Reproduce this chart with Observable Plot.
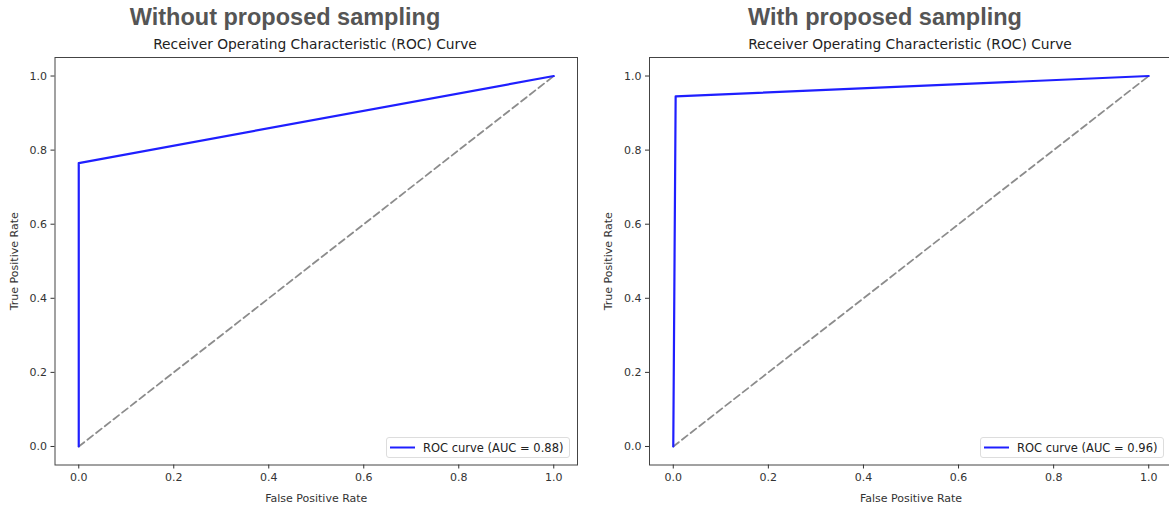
<!DOCTYPE html>
<html>
<head>
<meta charset="utf-8">
<script src="https://cdn.jsdelivr.net/npm/d3@7"></script>
<script src="https://cdn.jsdelivr.net/npm/@observablehq/plot@0.6"></script>
<style>
  body { margin: 0; background: #fff; }
  #root { position: relative; width: 1169px; height: 506px; overflow: hidden; background: #fff; }
  .panel { position: absolute; top: 0; }
  .panel svg { max-width: none !important; display: block; }
  .maintitle { position: absolute; font-family: "Liberation Sans", Arial, sans-serif; font-weight: bold; font-size: 23.5px; color: #555; white-space: nowrap; transform: translateX(-50%); line-height: 1; }
  .subtitle { position: absolute; font-family: "DejaVu Sans", sans-serif; font-size: 13.8px; color: #222; white-space: nowrap; transform: translateX(-50%); line-height: 1; }
  .legend { position: absolute; height: 21px; border: 1px solid #ddd; border-radius: 3px; background: rgba(255,255,255,0.9); box-sizing: border-box; font-family: "DejaVu Sans", sans-serif; font-size: 11.5px; color: #222; white-space: nowrap; }
  .legend svg { position: absolute; left: 0; top: 0; }
  .legend span { position: absolute; left: 36px; top: 3px; }
</style>
</head>
<body>
<div id="root"></div>
<script>
// ---- data ----
const panelTitles = ["Without proposed sampling", "With proposed sampling"];
const plotTitle = "Receiver Operating Characteristic (ROC) Curve";
const fprWithout = [0, 0, 1];
const tprWithout = [0, 0.765, 1];
const fprWith = [0, 0.005, 1];
const tprWith = [0, 0.945, 1];
const chanceFpr = [0, 1];
const chanceTpr = [0, 1];
const aucLabels = ["ROC curve (AUC = 0.88)", "ROC curve (AUC = 0.96)"];
const tickValues = [0.0, 0.2, 0.4, 0.6, 0.8, 1.0];
const xLabel = "False Positive Rate";
const yLabel = "True Positive Rate";

const root = document.getElementById("root");

function makePanel(fpr, tpr, opts) {
  const roc = fpr.map((f, i) => ({fpr: f, tpr: tpr[i]}));
  const chance = chanceFpr.map((f, i) => ({fpr: f, tpr: chanceTpr[i]}));
  const plot = Plot.plot({
    width: opts.width,
    height: 506,
    marginLeft: opts.marginLeft,
    marginRight: opts.marginRight,
    marginTop: 57,
    marginBottom: 41.5,
    style: {fontFamily: "DejaVu Sans, sans-serif", fontSize: "11px", color: "#333", background: "transparent", maxWidth: "none"},
    x: {domain: [-0.05, 1.05]},
    y: {domain: [-0.05, 1.05]},
    marks: [
      Plot.line(chance, {x: "fpr", y: "tpr", stroke: "#8c8c8c", strokeWidth: 1.8, strokeDasharray: "7,4"}),
      Plot.line(roc, {x: "fpr", y: "tpr", stroke: "#1f1fff", strokeWidth: 2.2}),
      Plot.frame({stroke: "#444", strokeWidth: 1}),
      Plot.axisX({ticks: tickValues, tickFormat: d3.format(".1f"), tickSize: 4, tickPadding: 4,
        label: xLabel, labelAnchor: "center", labelArrow: "none", labelOffset: 37}),
      Plot.axisY({ticks: tickValues, tickFormat: d3.format(".1f"), tickSize: 4, tickPadding: 4,
        label: yLabel, labelAnchor: "center", labelArrow: "none", labelOffset: 45})
    ]
  });
  const wrap = document.createElement("div");
  wrap.className = "panel";
  wrap.style.left = opts.left + "px";
  wrap.style.width = opts.width + "px";
  wrap.style.height = "506px";
  wrap.appendChild(plot);
  root.appendChild(wrap);

  const t = document.createElement("div");
  t.className = "maintitle";
  t.textContent = opts.title;
  t.style.left = opts.titleX + "px";
  t.style.top = "6px";
  root.appendChild(t);

  const s = document.createElement("div");
  s.className = "subtitle";
  s.textContent = plotTitle;
  s.style.left = opts.subX + "px";
  s.style.top = "38px";
  root.appendChild(s);

  const lg = document.createElement("div");
  lg.className = "legend";
  lg.style.left = opts.legendX + "px";
  lg.style.top = "437px";
  lg.style.width = "184px";
  lg.innerHTML = '<svg width="34" height="20"><line x1="3" x2="28" y1="9.5" y2="9.5" stroke="#1f1fff" stroke-width="2"/></svg>';
  const sp = document.createElement("span");
  sp.textContent = opts.legend;
  lg.appendChild(sp);
  root.appendChild(lg);
}

makePanel(fprWithout, tprWithout, {left: 0, width: 590, marginLeft: 54.5, marginRight: 13,
  title: panelTitles[0], titleX: 285, subX: 315, legendX: 386, legend: aucLabels[0]});
makePanel(fprWith, tprWith, {left: 590, width: 600, marginLeft: 59, marginRight: 18,
  title: panelTitles[1], titleX: 885, subX: 910, legendX: 980, legend: aucLabels[1]});
</script>
</body>
</html>
